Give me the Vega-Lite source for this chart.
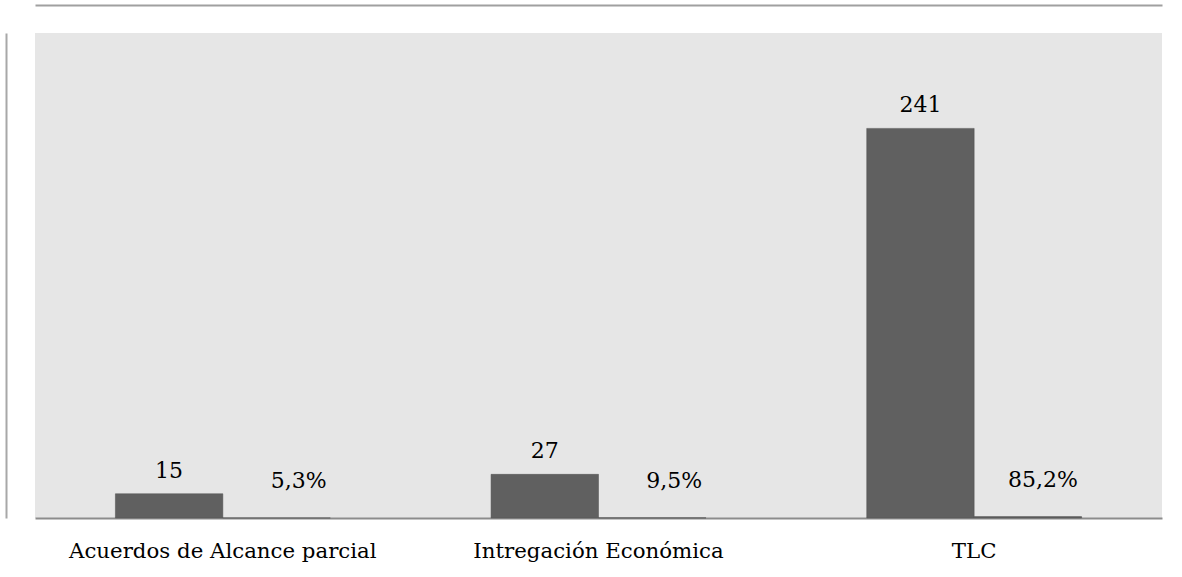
{
  "$schema": "https://vega.github.io/schema/vega-lite/v6.json",
  "width": 1127,
  "height": 485,
  "autosize": {"type": "none"},
  "padding": {"left": 35, "top": 33, "right": 20, "bottom": 59},
  "background": "#ffffff",
  "config": {
    "locale": {"number": {"decimal": ",", "thousands": ".", "grouping": [3], "currency": ["", " €"]}},
    "view": {"fill": "#e6e6e6", "stroke": null},
    "font": "DejaVu Serif"
  },
  "data": {
    "values": [
      {"tipo": "Acuerdos de Alcance parcial", "serie": "Número", "valor": 15},
      {"tipo": "Acuerdos de Alcance parcial", "serie": "Porcentaje", "valor": 0.053},
      {"tipo": "Intregación Económica", "serie": "Número", "valor": 27},
      {"tipo": "Intregación Económica", "serie": "Porcentaje", "valor": 0.095},
      {"tipo": "TLC", "serie": "Número", "valor": 241},
      {"tipo": "TLC", "serie": "Porcentaje", "valor": 0.852}
    ]
  },
  "resolve": {"axis": {"x": "independent", "y": "independent"}},
  "layer": [
    {
      "mark": {"type": "bar", "color": "#606060", "stroke": "#505050", "strokeWidth": 0.5},
      "encoding": {
        "x": {
          "field": "tipo", "type": "nominal", "sort": null,
          "scale": {"paddingInner": 0.428, "paddingOuter": 0.214},
          "axis": {"orient": "bottom", "title": null, "labelAngle": 0, "ticks": false, "domainColor": "#8c8c8c", "domainWidth": 2, "labelFont": "DejaVu Serif", "labelFontSize": 21.3, "labelColor": "#000000", "labelPadding": 39, "labelLimit": 0, "labelBaseline": "alphabetic", "grid": false}
        },
        "xOffset": {"field": "serie", "type": "nominal", "scale": {"paddingInner": 0, "paddingOuter": 0}},
        "y": {
          "field": "valor", "type": "quantitative",
          "scale": {"domain": [0, 300], "nice": false},
          "axis": {"orient": "left", "title": null, "labels": false, "ticks": false, "grid": false, "domainColor": "#a8a8a8", "domainWidth": 2, "offset": 29}
        }
      }
    },
    {
      "transform": [{"filter": "datum.serie === 'Número'"}],
      "mark": {"type": "text", "font": "DejaVu Serif", "fontSize": 22, "color": "#000000", "baseline": "alphabetic", "dy": -16},
      "encoding": {
        "x": {
          "field": "tipo", "type": "nominal", "sort": null,
          "axis": {"orient": "top", "title": null, "labels": false, "ticks": false, "grid": false, "domainColor": "#a0a0a0", "domainWidth": 2, "offset": 28}
        },
        "xOffset": {"field": "serie", "type": "nominal"},
        "y": {"field": "valor", "type": "quantitative", "axis": null},
        "text": {"field": "valor", "type": "quantitative", "format": "d"}
      }
    },
    {
      "transform": [{"filter": "datum.serie === 'Porcentaje'"}],
      "mark": {"type": "text", "font": "DejaVu Serif", "fontSize": 22, "color": "#000000", "baseline": "alphabetic", "align": "right", "dy": -30, "dx": 50},
      "encoding": {
        "x": {"field": "tipo", "type": "nominal", "sort": null, "axis": null},
        "xOffset": {"field": "serie", "type": "nominal"},
        "y": {"field": "valor", "type": "quantitative", "axis": null},
        "text": {"field": "valor", "type": "quantitative", "format": ".1%"}
      }
    }
  ]
}
